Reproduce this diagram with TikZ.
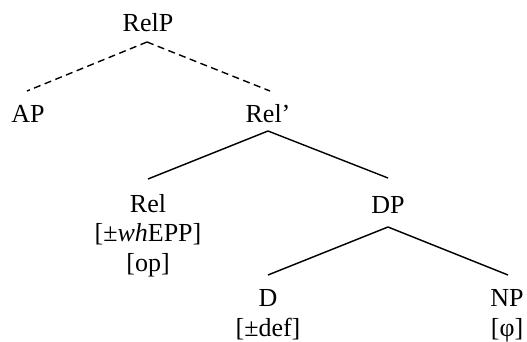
\documentclass[tikz,border=0pt]{standalone}
\usepackage{fontspec}
\setmainfont{Liberation Serif}
\begin{document}
\begin{tikzpicture}[x=1pt,y=-1pt,
  lbl/.style={inner sep=0pt,anchor=base,align=center,font=\fontsize{26}{29.3}\selectfont},
  branch/.style={line width=1.4pt},
  dbranch/.style={line width=1.4pt,dash pattern=on 7pt off 4.5pt}]
\useasboundingbox (0,0) rectangle (527,342);
\node[lbl] (relp) at (148,32) {RelP};
\node[lbl] (ap) at (28,122) {AP};
\node[lbl] (relbar) at (268,122) {Rel'};
\node[lbl] (rel) at (148,271) {Rel\\{}[±\textit{wh}EPP]\\{}[op]};
\node[lbl] (dp) at (388,213) {DP};
\node[lbl] (d) at (268,336) {D\\{}[±def]};
\node[lbl] (np) at (507,336) {NP\\{}[φ]};
\draw[dbranch] ([xshift=-1pt,yshift=-10pt]relp.base) -- ([xshift=-1pt,yshift=31pt]ap.base);
\draw[dbranch] ([xshift=-1pt,yshift=-10pt]relp.base) -- ([xshift=2pt,yshift=31pt]relbar.base);
\draw[branch] ([yshift=-9pt]relbar.base) -- ([yshift=92pt]rel.base);
\draw[branch] ([yshift=-9pt]relbar.base) -- ([yshift=35pt]dp.base);
\draw[branch] ([yshift=-14pt]dp.base) -- ([yshift=61pt]d.base);
\draw[branch] ([yshift=-14pt]dp.base) -- ([xshift=1pt,yshift=61pt]np.base);
\end{tikzpicture}
\end{document}
